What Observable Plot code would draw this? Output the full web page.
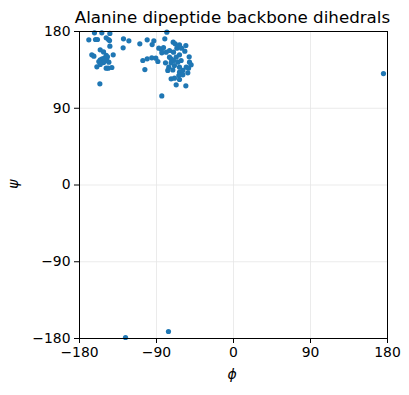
<!DOCTYPE html>
<html>
<head>
<meta charset="utf-8">
<script src="https://cdn.jsdelivr.net/npm/d3@7"></script>
<script src="https://cdn.jsdelivr.net/npm/@observablehq/plot@0.6"></script>
<style>
  html, body { margin: 0; padding: 0; background: white; }
  #wrap { position: relative; width: 409px; height: 395px; font-family: "DejaVu Sans", sans-serif; }
  .lbl { position: absolute; color: black; white-space: nowrap; }
  #title { left: 0; width: 465px; top: 6px; font-size: 16.7px; line-height: 22px; text-align: center; }
  #xlab { left: 224px; top: 366px; font-size: 14px; font-style: italic; width: 16px; text-align: center; }
  #ylab { left: 8px; top: 176px; font-size: 14px; font-style: italic; transform: rotate(-90deg); transform-origin: center; }
</style>
</head>
<body>
<div id="wrap">
  <div id="chart"></div>
  <div id="title" class="lbl">Alanine dipeptide backbone dihedrals</div>
  <div id="xlab" class="lbl">ϕ</div>
  <div id="ylab" class="lbl">ψ</div>
</div>
<script>
const phi = [
  -162.5, -153.9, -144.5, -169.1, -161.3, -159.0, -148.8, -146.1, -144.9, -128.6,
  -122.3, -144.5, -129.0, -155.8, -151.9, -165.6, -163.2, -148.8, -147.3, -140.6,
  -155.8, -153.5, -150.8, -148.1, -157.4, -154.7, -151.9, -145.7, -159.7, -155.8,
  -148.8, -146.5, -142.2, -156.2,
  -109.5, -100.9, -95.1, -93.1, -106.0, -100.9, -95.5, -90.8, -88.4, -103.6, -83.8,
  -77.9, -80.3, -70.5, -68.2, -63.1, -55.7, -87.3, -84.2, -81.8, -74.8,
  -70.1, -66.2, -60.8, -56.9, -83.8, -78.7, -74.8, -72.9, -67.0, -63.1,
  -51.8, -79.5, -72.9, -70.1, -65.1, -61.2, -51.4, -75.6, -69.0, -63.1,
  -55.3, -49.5, -76.8, -70.9, -63.1, -59.2, -52.6, -63.9, -59.2, -53.4,
  -72.9, -69.0, -63.1, -67.0, -55.7,
  175.3, -126.2, -76.0
];
const psi = [
  178.4, 178.4, 177.7, 170.2, 170.6, 170.6, 172.6, 170.6, 169.4, 171.4,
  169.1, 162.8, 160.8, 158.5, 156.1, 152.6, 151.1, 151.9, 150.3, 152.6,
  146.8, 147.9, 148.7, 146.0, 144.8, 143.3, 143.6, 144.0, 138.6, 141.3,
  137.0, 137.0, 137.8, 118.6,
  165.5, 170.2, 164.7, 169.1, 146.0, 148.0, 149.1, 148.7, 144.8, 135.4, 104.5,
  179.2, 171.4, 167.5, 165.5, 164.4, 163.6, 160.5, 158.9, 161.2, 157.7,
  155.8, 160.5, 160.5, 156.9, 155.0, 155.8, 149.9, 147.9, 149.9, 152.6,
  150.3, 143.3, 143.3, 146.0, 144.0, 146.0, 144.0, 138.2, 140.1, 138.2,
  138.2, 140.9, 134.3, 135.0, 132.3, 134.3, 137.0, 128.4, 129.2, 131.5,
  124.5, 125.3, 123.7, 117.5, 116.3,
  130.7, -178.8, -171.8
];
const tickValues = [-180, -90, 0, 90, 180];

const data = phi.map((p, i) => ({phi: p, psi: psi[i]}));

const chart = Plot.plot({
  width: 409,
  height: 395,
  marginTop: 31,
  marginBottom: 57,
  marginLeft: 79,
  marginRight: 22,
  style: {fontFamily: "DejaVu Sans, sans-serif", fontSize: "13.9px", background: "white", overflow: "visible"},
  x: {domain: [-180, 180], ticks: tickValues, label: null},
  y: {domain: [-180, 180], ticks: tickValues, label: null},
  marks: [
    Plot.gridX(tickValues, {stroke: "#e6e6e6", strokeOpacity: 1, strokeWidth: 0.8}),
    Plot.gridY(tickValues, {stroke: "#e6e6e6", strokeOpacity: 1, strokeWidth: 0.8}),
    Plot.dot(data, {x: "phi", y: "psi", r: 2.6, fill: "#1f77b4", stroke: "none"}),
    Plot.frame({stroke: "black", strokeWidth: 1}),
    Plot.axisX(tickValues, {tickSize: 5, tickPadding: 4, fontSize: 13.9, label: null, stroke: "black"}),
    Plot.axisY(tickValues, {tickSize: 5, tickPadding: 4, fontSize: 13.9, label: null, stroke: "black"})
  ]
});
document.getElementById("chart").appendChild(chart);
</script>
</body>
</html>
